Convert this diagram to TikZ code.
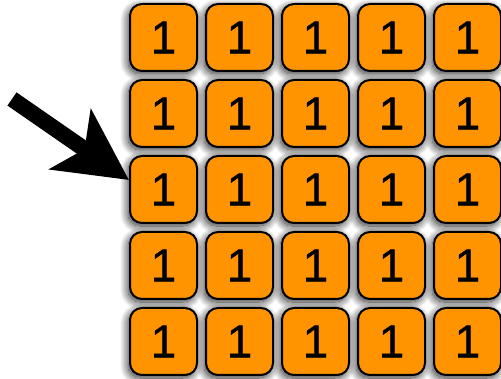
\documentclass[tikz,border=0pt]{standalone}
\usepackage{fontspec}
\setmainfont{Liberation Sans}
\newfontfamily\cellfont[FakeBold=0.8]{Liberation Sans}
\usetikzlibrary{arrows.meta,shadows.blur}
\definecolor{cellorange}{RGB}{255,147,0}
\tikzset{
  cell/.style={draw=black, line width=2pt, fill=cellorange, rounded corners=12pt,
    minimum size=67pt, inner sep=0pt, font=\cellfont\fontsize{46pt}{46pt}\selectfont,
    blur shadow={shadow xshift=-2pt, shadow yshift=-3pt, shadow blur radius=8pt,
      shadow blur steps=14, shadow opacity=85}},
  pointer/.style={line width=16pt, -{Stealth[length=71pt,width=72pt,inset=17pt]}}
}
\begin{document}
\begin{tikzpicture}[x=1pt,y=-1pt]
\useasboundingbox (0,0) rectangle (501,379);
\foreach \i in {0,...,4}{
  \foreach \j in {0,...,4}{
    \node[cell] (c\i\j) at ({163.5+76*\j},{37.5+76*\i}) {1};
  }
}
\coordinate (a0) at (12,99);
\coordinate (a1) at (129,180);
\draw[pointer] (a0) -- (a1);
\end{tikzpicture}
\end{document}
